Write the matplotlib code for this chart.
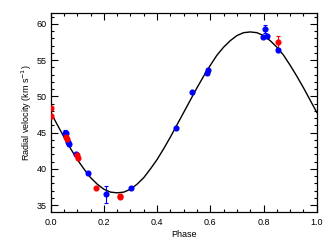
import matplotlib
matplotlib.use("Agg")
import matplotlib.pyplot as plt
from matplotlib.ticker import MultipleLocator

plt.rcParams["font.family"] = ["Liberation Sans", "DejaVu Sans"]

# model curve, every 0.025 in phase
curve_phase = [i * 0.025 for i in range(41)]
curve_vel = [47.8, 46.1, 44.4, 42.8, 41.3, 40.0, 38.8, 37.9, 37.2, 36.8,
             36.7, 36.8, 37.2, 37.9, 38.8, 40.0, 41.3, 42.8, 44.4, 46.1,
             47.8, 49.5, 51.2, 52.8, 54.3, 55.7, 56.8, 57.7, 58.4, 58.8,
             58.9, 58.8, 58.4, 57.7, 56.8, 55.7, 54.3, 52.8, 51.2, 49.5, 47.8]

# blue data set
blue_phase = [0.054, 0.058, 0.065, 0.069, 0.094, 0.139, 0.209, 0.303,
              0.470, 0.532, 0.587, 0.590, 0.797, 0.806, 0.812, 0.853]
blue_vel = [45.0, 44.9, 43.75, 43.4, 42.0, 39.4, 36.5, 37.4,
            45.7, 50.55, 53.3, 53.6, 58.2, 59.3, 58.3, 56.4]
blue_err = [0.4, 0.2, 0.3, 0.2, 0.15, 0.2, 1.2, 0.15,
            0.1, 0.2, 0.2, 0.2, 0.2, 0.6, 0.2, 0.2]

# red data set
red_phase = [0.002, 0.002, 0.056, 0.060, 0.100, 0.101, 0.169, 0.259, 0.260, 0.856]
red_vel = [48.4, 47.3, 44.35, 44.1, 41.95, 41.5, 37.4, 36.3, 36.1, 57.5]
red_err = [0.3, 0.3, 0.2, 0.2, 0.3, 0.2, 0.15, 0.2, 0.15, 0.8]

fig = plt.figure(figsize=(3.31, 2.52), dpi=100)
ax = fig.add_axes([0.153, 0.160, 0.804, 0.788])

ax.plot(curve_phase, curve_vel, color="black", lw=1.0, zorder=2)
ax.errorbar(blue_phase, blue_vel, yerr=blue_err, fmt="o", color="#0000ff",
            ms=3.4, elinewidth=0.8, capsize=1.5, capthick=0.8, zorder=3)
ax.errorbar(red_phase, red_vel, yerr=red_err, fmt="o", color="#ff0000",
            ms=3.4, elinewidth=0.8, capsize=1.5, capthick=0.8, zorder=3)

ax.set_xlim(0.0, 1.0)
ax.set_ylim(34.1, 61.5)
ax.xaxis.set_major_locator(MultipleLocator(0.2))
ax.xaxis.set_minor_locator(MultipleLocator(0.05))
ax.yaxis.set_major_locator(MultipleLocator(5))
ax.yaxis.set_minor_locator(MultipleLocator(1))
ax.xaxis.set_major_formatter(plt.FormatStrFormatter("%.1f"))

ax.tick_params(which="both", direction="in", top=True, right=True,
               labelsize=6.5, width=0.8)
ax.tick_params(axis="x", pad=4.5)
ax.tick_params(axis="y", pad=3)
ax.tick_params(which="major", length=5)
ax.tick_params(which="minor", length=2.5)
for s in ax.spines.values():
    s.set_linewidth(0.9)

ax.set_xlabel("Phase", fontsize=6.5, labelpad=2)
ax.set_ylabel("Radial velocity (km s$^{-1}$)", fontsize=6.5, labelpad=2)

fig.savefig("out.png", dpi=100)
